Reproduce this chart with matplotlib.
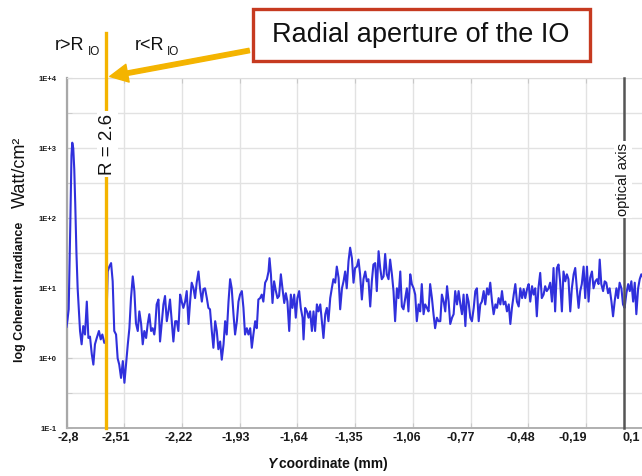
import matplotlib
matplotlib.use('Agg')
import matplotlib.pyplot as plt
from matplotlib.patches import Rectangle, FancyArrowPatch
from matplotlib.transforms import ScaledTranslation

plt.rcParams['font.family'] = ['Liberation Sans', 'DejaVu Sans']

# ---- data (Y coordinate in mm, log10 of coherent irradiance in Watt/cm^2) ----
y_coordinate_mm = [
    -2.800, -2.795, -2.789, -2.781, -2.775, -2.771, -2.766, -2.761, -2.756, -2.750,
    -2.744, -2.739, -2.732, -2.724, -2.716, -2.707, -2.698, -2.690, -2.682, -2.673,
    -2.665, -2.657, -2.648, -2.637, -2.628, -2.620, -2.610, -2.602, -2.593, -2.585,
    -2.576, -2.568, -2.560, -2.551, -2.543, -2.535, -2.526, -2.517, -2.509, -2.501,
    -2.492, -2.484, -2.476, -2.467, -2.459, -2.451, -2.442, -2.434, -2.425, -2.417,
    -2.409, -2.400, -2.392, -2.384, -2.375, -2.367, -2.359,
    -2.355, -2.347, -2.338, -2.330, -2.321, -2.313, -2.305, -2.296, -2.288, -2.280,
    -2.271, -2.263, -2.254, -2.246, -2.238, -2.229, -2.221, -2.213, -2.204, -2.196,
    -2.187, -2.179, -2.171, -2.162, -2.154, -2.146, -2.137, -2.129, -2.120, -2.112,
    -2.104, -2.095, -2.087, -2.079, -2.070, -2.062, -2.053, -2.045, -2.037, -2.028,
    -2.020, -2.011, -2.003, -1.995, -1.986, -1.978, -1.970, -1.961, -1.953, -1.944,
    -1.936, -1.928, -1.919, -1.911, -1.903, -1.894, -1.886,
    -1.877, -1.869, -1.861, -1.852, -1.844, -1.836, -1.827, -1.819, -1.811, -1.802,
    -1.793, -1.785, -1.780, -1.773, -1.765, -1.757, -1.748, -1.740, -1.732, -1.723,
    -1.715, -1.706, -1.698, -1.690, -1.681, -1.673, -1.665, -1.656, -1.648, -1.640,
    -1.631, -1.623, -1.614, -1.609, -1.601, -1.592, -1.584, -1.576, -1.567, -1.559,
    -1.551, -1.542, -1.534, -1.525, -1.517, -1.509, -1.500, -1.492, -1.484, -1.475,
    -1.467, -1.459, -1.450, -1.442, -1.433, -1.425, -1.416, -1.408,
    -1.400, -1.392, -1.383, -1.375, -1.366, -1.358, -1.350, -1.341, -1.333, -1.325,
    -1.316, -1.308, -1.299, -1.291, -1.283, -1.274, -1.266, -1.258, -1.249, -1.241,
    -1.232, -1.224, -1.216, -1.207, -1.199, -1.191, -1.182, -1.174, -1.165, -1.157,
    -1.149, -1.140, -1.132, -1.123, -1.115, -1.107, -1.098, -1.090, -1.082, -1.073,
    -1.065, -1.056, -1.048, -1.040, -1.031, -1.023, -1.015, -1.006, -0.998, -0.989,
    -0.981, -0.973, -0.964, -0.956, -0.948, -0.939, -0.931,
    -0.922, -0.914, -0.905, -0.897, -0.888, -0.880, -0.872, -0.863, -0.855, -0.847,
    -0.838, -0.830, -0.821, -0.813, -0.805, -0.796, -0.788, -0.780, -0.771, -0.763,
    -0.754, -0.746, -0.738, -0.729, -0.721, -0.713, -0.704, -0.696, -0.687, -0.679,
    -0.671, -0.662, -0.654, -0.645, -0.637, -0.629, -0.620, -0.612, -0.604, -0.595,
    -0.587, -0.578, -0.570, -0.562, -0.553, -0.545, -0.537, -0.528, -0.520, -0.511,
    -0.503, -0.495, -0.486, -0.478, -0.470, -0.461, -0.453,
    -0.445, -0.437, -0.429, -0.420, -0.412, -0.403, -0.395, -0.387, -0.378, -0.370,
    -0.361, -0.353, -0.345, -0.336, -0.328, -0.320, -0.311, -0.303, -0.294, -0.286,
    -0.278, -0.269, -0.261, -0.252, -0.244, -0.236, -0.227, -0.219, -0.211, -0.202,
    -0.194, -0.185, -0.177, -0.169, -0.160, -0.152, -0.143, -0.135, -0.127, -0.121,
    -0.113, -0.104, -0.096, -0.088, -0.079, -0.071, -0.062, -0.054, -0.046, -0.037,
    -0.029, -0.021, -0.012, -0.004, 0.004, 0.013, 0.022, 0.030, 0.038, 0.047,
    0.055, 0.063, 0.072, 0.080, 0.088, 0.098,
]
log_irradiance = [
    0.45, 0.55, 0.70, 1.90, 2.90, 3.08, 3.00, 2.70, 2.20, 1.50,
    1.00, 0.75, 0.39, 0.20, 0.46, 0.34, 0.81, 0.29, 0.31, 0.06,
    -0.09, 0.20, 0.29, 0.39, 0.27, 0.34, 0.22, 0.25, 1.24, 1.31,
    1.36, 1.10, 0.39, 0.34, 0.00, -0.09, -0.28, -0.04, -0.35, -0.09,
    0.20, 0.43, 0.86, 1.17, 0.96, 0.50, 0.39, 0.67, 0.49, 0.20,
    0.39, 0.29, 0.49, 0.63, 0.39, 0.43, 0.34,
    0.43, 0.77, 0.84, 0.24, 0.53, 0.77, 0.89, 0.53, 0.67, 0.84,
    0.53, 0.24, 0.53, 0.53, 0.39, 0.91, 0.81, 0.72, 0.81, 0.96,
    0.49, 0.81, 1.08, 1.00, 0.86, 1.08, 1.24, 1.00, 0.81, 0.99,
    1.00, 0.86, 0.72, 0.70, 0.39, 0.15, 0.53, 0.39, 0.13, 0.24,
    -0.02, 0.20, 0.53, 0.34, 0.81, 1.13, 1.00, 0.63, 0.34, 0.53,
    0.81, 0.91, 0.96, 0.72, 0.34, 0.43, 0.34,
    0.43, 0.15, 0.34, 0.53, 0.43, 0.84, 0.86, 0.91, 0.81, 1.08,
    1.13, 1.24, 1.43, 1.20, 0.79, 1.10, 0.96, 0.86, 0.89, 1.20,
    1.00, 0.79, 0.93, 0.81, 0.39, 0.91, 0.72, 0.91, 0.58, 0.86,
    0.96, 0.72, 0.58, 0.27, 0.72, 0.67, 0.58, 0.67, 0.39, 0.67,
    0.39, 0.77, 0.67, 0.77, 0.53, 0.29, 0.63, 0.72, 0.53, 0.86,
    1.00, 1.13, 1.08, 1.31, 1.15, 0.70, 1.00, 1.10,
    1.24, 1.00, 1.39, 1.58, 1.43, 1.08, 1.29, 1.31, 1.41, 1.20,
    0.84, 1.13, 1.24, 1.10, 1.13, 0.74, 1.10, 1.34, 1.36, 0.96,
    1.53, 1.29, 1.13, 1.17, 1.49, 1.20, 1.13, 1.41, 1.20, 0.96,
    0.53, 1.00, 0.86, 1.24, 0.74, 0.70, 0.86, 1.00, 0.67, 1.20,
    1.06, 1.00, 0.91, 0.53, 0.77, 0.67, 1.06, 0.63, 0.77, 0.72,
    0.67, 1.06, 0.86, 0.63, 0.43, 0.58, 0.53,
    0.53, 0.91, 0.81, 0.67, 1.03, 0.81, 0.49, 0.58, 0.63, 0.96,
    0.77, 0.96, 0.77, 0.63, 0.91, 0.46, 0.91, 0.81, 0.58, 0.53,
    0.72, 0.96, 1.00, 0.53, 0.77, 0.81, 0.96, 0.77, 1.00, 0.91,
    1.08, 0.81, 0.63, 0.77, 0.72, 0.86, 0.77, 0.96, 0.77, 0.81,
    0.67, 0.77, 0.49, 0.72, 0.91, 1.06, 0.81, 0.74, 1.00, 0.86,
    0.99, 0.86, 0.99, 1.06, 0.81, 1.03, 0.91,
    1.00, 0.60, 1.00, 1.22, 0.86, 0.91, 1.03, 0.96, 1.00, 1.08,
    0.81, 1.29, 0.67, 1.29, 1.34, 1.10, 0.67, 1.24, 1.10, 1.20,
    1.13, 0.67, 1.00, 1.20, 1.29, 1.00, 0.72, 0.96, 1.06, 1.31,
    0.86, 1.31, 0.81, 1.15, 1.24, 1.00, 1.10, 1.13, 1.06, 1.41,
    1.06, 0.96, 1.10, 1.08, 0.93, 1.00, 0.81, 0.60, 0.81, 1.00,
    0.86, 1.08, 1.00, 0.77, 0.72, 0.93, 1.06, 0.96, 1.10, 0.81,
    1.08, 0.63, 1.00, 1.13, 1.20, 1.15,
]

x_ticks = [-2.8, -2.51, -2.22, -1.93, -1.64, -1.35, -1.06, -0.77, -0.48, -0.19, 0.1]
x_tick_labels = ['-2,8', '-2,51', '-2,22', '-1,93', '-1,64', '-1,35', '-1,06',
                 '-0,77', '-0,48', '-0,19', '0,1']
y_ticks = [-1, 0, 1, 2, 3, 4]
y_tick_labels = ['1E-1', '1E+0', '1E+1', '1E+2', '1E+3', '1E+4']
y_minor_ticks = [-0.5, 0.5, 1.5, 2.5, 3.5]
aperture_position = -2.6
optical_axis_position = 0.0

W, H = 642, 476
fig = plt.figure(figsize=(W / 100, H / 100), dpi=100)
ax = fig.add_axes([66.5 / W, 47.7 / H, 577.2 / W, 350.0 / H])
ax.set_xlim(-2.8, 0.1)
ax.set_ylim(-1, 4)

ax.set_xticks(x_ticks)
ax.set_xticklabels(x_tick_labels, fontsize=9, fontweight='bold', color='#1a1a1a')
ax.set_yticks(y_ticks)
ax.set_yticklabels(y_tick_labels, fontsize=5.5, fontweight='bold', color='#1a1a1a')
ax.set_yticks(y_minor_ticks, minor=True)
ax.grid(True, which='major', axis='x', color='#e2e2e2', lw=1.0)
ax.grid(True, which='both', axis='y', color='#e2e2e2', lw=1.0)
ax.set_axisbelow(True)
ax.tick_params(axis='both', which='both', direction='in', length=3.5, color='#c8c8c8',
               top=True, right=False)
ax.tick_params(axis='x', pad=2.5)
ax.tick_params(axis='y', pad=7)
# small horizontal label offsets (pixels) as in the reference
label_shift_px = [2, -8, -3, -4, -4, -6, -6, -10, -7, -13, -12]
for lab, dx in zip(ax.get_xticklabels(), label_shift_px):
    lab.set_transform(lab.get_transform() + ScaledTranslation(dx / 100, 0, fig.dpi_scale_trans))

ax.spines['left'].set_color('#a8a8a8')
ax.spines['left'].set_linewidth(1.6)
ax.spines['bottom'].set_color('#b0b0b0')
ax.spines['bottom'].set_linewidth(1.4)
ax.spines['top'].set_color('#dddddd')
ax.spines['right'].set_visible(False)

# curve
ax.plot(y_coordinate_mm, log_irradiance, color='#3030dc', lw=1.5, zorder=3)

# optical axis line
ax.plot([optical_axis_position, optical_axis_position], [-1, 4], color='#555555',
        lw=1.8, zorder=4, clip_on=False)
ax.text(optical_axis_position - 0.006, 2.56, 'optical axis', rotation=90, ha='center',
        va='center', fontsize=10.5, color='#111111', zorder=5,
        bbox=dict(facecolor='white', edgecolor='none', pad=1.5))

# aperture line (orange), extends above the axes
ax.plot([aperture_position, aperture_position], [-1, 4.65], color='#f4b400', lw=2.4,
        zorder=4, clip_on=False)
ax.text(aperture_position + 0.004, 3.06, 'R = 2.6', rotation=90, ha='center',
        va='center', fontsize=13.5, color='#111111', zorder=5, clip_on=False,
        bbox=dict(facecolor='white', edgecolor='none', pad=1.5))

# axis labels
fig.text(20 / W, 1 - 292 / H, 'log Coherent Irradiance', rotation=90, ha='center',
         va='center', fontsize=9, fontweight='bold', color='#111111')
fig.text(20 / W, 1 - 172 / H, 'Watt/cm²', rotation=90, ha='center', va='center',
         fontsize=13, color='#111111')
fig.text(268 / W, 1 - 464 / H, 'Y', ha='left', va='center', fontsize=10,
         fontweight='bold', style='italic', color='#111111')
fig.text(279 / W, 1 - 464 / H, 'coordinate (mm)', ha='left', va='center', fontsize=10,
         fontweight='bold', color='#111111')

# r > R_IO  /  r < R_IO
fig.text(55 / W, 1 - 50 / H, 'r>R', ha='left', va='baseline', fontsize=13, color='#111111')
fig.text(88 / W, 1 - 55 / H, 'IO', ha='left', va='baseline', fontsize=8.5, color='#111111')
fig.text(135 / W, 1 - 50 / H, 'r<R', ha='left', va='baseline', fontsize=13, color='#111111')
fig.text(167 / W, 1 - 55 / H, 'IO', ha='left', va='baseline', fontsize=8.5, color='#111111')

# annotation box
fig.patches.append(Rectangle((253 / W, 1 - 61 / H), (590 - 253) / W, (61 - 9) / H,
                             transform=fig.transFigure, facecolor='white',
                             edgecolor='#c63a20', lw=2.4, zorder=5))
fig.text(421 / W, 1 - 35 / H, 'Radial aperture of the IO', ha='center', va='center',
         fontsize=19.5, color='#111111', zorder=6)

arrow = FancyArrowPatch((252 / W, 1 - 50 / H), (107 / W, 1 - 77 / H),
                        transform=fig.transFigure,
                        arrowstyle='simple,head_length=1.3,head_width=1.3,tail_width=0.32',
                        mutation_scale=10, color='#f4b400', zorder=6)
fig.patches.append(arrow)

fig.savefig('out.png', dpi=100)
